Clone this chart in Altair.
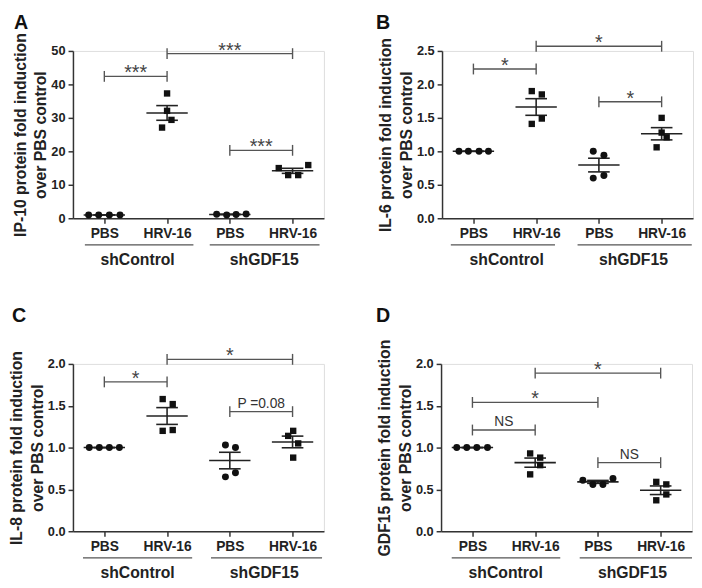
import altair as alt
import numpy as np
import pandas as pd

# ---------------- data ----------------
CATEGORIES = ["PBS", "HRV-16", "PBS", "HRV-16"]
GROUPS = ["shControl", "shGDF15"]
GROUP_CENTERS = [1.53, 3.55]
SHAPES = ["circle", "square", "circle", "square"]

A_VALUES = [[1.0, 1.0, 1.0, 1.0], [37.3, 32.1, 29.4, 27.1],
            [1.2, 1.0, 1.1, 1.3], [15.0, 12.9, 12.9, 15.9]]
A_OFFSETS = [[-0.25, -0.09, 0.08, 0.25], [0.0, 0.0, 0.07, -0.08],
             [-0.21, -0.05, 0.10, 0.26], [-0.22, -0.07, 0.09, 0.25]]
A_BRACKETS = [(1, 2, 42.4, "***"), (2, 4, 49.2, "***"), (3, 4, 20.3, "***")]
A_UNDERLINES = [(0.69, 2.42), (2.68, 4.43)]

B_VALUES = [[1.0, 1.0, 1.0, 1.0], [1.90, 1.85, 1.49, 1.41],
            [1.00, 0.94, 0.64, 0.60], [1.50, 1.28, 1.21, 1.06]]
B_OFFSETS = [[-0.23, -0.08, 0.09, 0.24], [-0.07, 0.09, 0.09, -0.07],
             [-0.09, 0.08, 0.08, -0.09], [0.0, 0.0, 0.08, -0.08]]
B_BRACKETS = [(1, 2, 2.23, "*"), (2, 4, 2.57, "*"), (3, 4, 1.74, "*")]
B_UNDERLINES = [(0.64, 2.30), (2.66, 4.48)]

C_VALUES = [[1.0, 1.0, 1.0, 1.0], [1.58, 1.52, 1.20, 1.21],
            [1.03, 1.00, 0.70, 0.65], [1.20, 1.14, 1.05, 0.88]]
C_OFFSETS = [[-0.24, -0.08, 0.08, 0.24], [-0.07, 0.09, -0.07, 0.09],
             [-0.07, 0.09, 0.09, -0.07], [0.01, -0.07, 0.09, 0.01]]
C_BRACKETS = [(1, 2, 1.785, "*"), (2, 4, 2.055, "*"), (3, 4, 1.43, "P =0.08")]
C_UNDERLINES = [(0.66, 2.40), (2.70, 4.47)]

D_VALUES = [[1.0, 1.0, 1.0, 1.0], [0.93, 0.88, 0.79, 0.68],
            [0.61, 0.56, 0.56, 0.63], [0.59, 0.56, 0.44, 0.37]]
D_OFFSETS = [[-0.25, -0.09, 0.07, 0.24], [-0.08, 0.08, 0.08, -0.08],
             [-0.24, -0.08, 0.08, 0.24], [-0.07, 0.09, 0.09, -0.07]]
D_BRACKETS = [(1, 2, 1.21, "NS"), (1, 3, 1.54, "*"), (2, 4, 1.89, "*"), (3, 4, 0.82, "NS")]
D_UNDERLINES = [(0.67, 2.40), (2.71, 4.50)]

Y_TITLES = {
    "A": ["IP-10 protein fold induction", "over PBS control"],
    "B": ["IL-6 protein fold induction", "over PBS control"],
    "C": ["IL-8 protein fold induction", "over PBS control"],
    "D": ["GDF15 protein fold induction", "over PBS control"],
}
Y_MAX = {"A": 50, "B": 2.5, "C": 2.0, "D": 2.0}
Y_TICKS = {"A": [0, 10, 20, 30, 40, 50],
           "B": [0, 0.5, 1.0, 1.5, 2.0, 2.5],
           "C": [0, 0.5, 1.0, 1.5, 2.0],
           "D": [0, 0.5, 1.0, 1.5, 2.0]}
Y_FORMAT = {"A": "d", "B": ".1f", "C": ".1f", "D": ".1f"}

# ---------------- styling ----------------
W, H = 255, 170
FONT = "Liberation Sans"
INK = "#111111"
LINE = "#222222"
GRAY = "#555555"


def panel(letter, values, offsets, brackets, underlines, letter_dx, letter_dy):
    pts = []
    summ_rows = []
    sem_rows = []
    vert_rows = []
    for i, (vals, offs) in enumerate(zip(values, offsets)):
        cat = i + 1
        for v, o in zip(vals, offs):
            pts.append({"x": cat + o, "y": v, "shape": SHAPES[i]})
        arr = np.array(vals)
        m = arr.mean()
        s = arr.std(ddof=1) / np.sqrt(len(arr))
        summ_rows.append({"x": cat, "y": m})
        sem_rows += [{"x": cat, "y": m - s}, {"x": cat, "y": m + s}]
        vert_rows.append({"x": cat, "y": m - s, "y2": m + s})
    pts = pd.DataFrame(pts)
    summ = pd.DataFrame(summ_rows)
    sem = pd.DataFrame(sem_rows)
    vert = pd.DataFrame(vert_rows)

    br = pd.DataFrame([{"x": a, "x2": b, "y": y, "label": t} for a, b, y, t in brackets])
    caps = pd.DataFrame([{"x": xx, "y": y} for a, b, y, t in brackets for xx in (a, b)])
    brtext = pd.DataFrame([{"x": (a + b) / 2, "y": y, "label": t} for a, b, y, t in brackets])
    ul = pd.DataFrame([{"x": a, "x2": b} for a, b in underlines])
    gl = pd.DataFrame([{"x": c, "label": g} for c, g in zip(GROUP_CENTERS, GROUPS)])
    lt = pd.DataFrame([{"label": letter}])

    label_expr = "[" + ",".join("'%s'" % c for c in CATEGORIES) + "][datum.value - 1]"
    xaxis = alt.Axis(values=[1, 2, 3, 4], labelExpr=label_expr, title=None, grid=False,
                     tickSize=5, tickWidth=1.5, domainWidth=1.5, domainColor="#333333",
                     tickColor="#333333", labelFontSize=14, labelFontWeight="bold",
                     labelColor="#222222", labelPadding=4, labelFont=FONT)
    yaxis = alt.Axis(values=Y_TICKS[letter], format=Y_FORMAT[letter], title=Y_TITLES[letter],
                     grid=False, tickSize=5, tickWidth=1.5, domainWidth=1.5,
                     domainColor="#333333", tickColor="#333333", labelFontSize=13,
                     labelFontWeight="bold", labelColor="#222222", labelPadding=3,
                     titleFontSize=16, titleFontWeight="bold", titleColor="#222222",
                     titlePadding=2, titleLineHeight=21, labelFont=FONT, titleFont=FONT)
    X = alt.X("x:Q", scale=alt.Scale(domain=[0.5, 4.5], nice=False, zero=False), axis=xaxis)
    Y = alt.Y("y:Q", scale=alt.Scale(domain=[0, Y_MAX[letter]], nice=False), axis=yaxis)

    points = alt.Chart(pts).mark_point(filled=True, opacity=1, color=INK).encode(
        x=X, y=Y,
        shape=alt.Shape("shape:N", scale=alt.Scale(domain=["circle", "square"],
                                                   range=["circle", "square"]), legend=None),
        size=alt.Size("shape:N", scale=alt.Scale(domain=["circle", "square"], range=[50, 42]),
                      legend=None),
    )
    mean_t = alt.Chart(summ).mark_tick(orient="horizontal", size=42, thickness=1.6,
                                       color=LINE, opacity=1).encode(x=X, y=Y)
    sem_t = alt.Chart(sem).mark_tick(orient="horizontal", size=22, thickness=1.6,
                                     color=LINE, opacity=1).encode(x=X, y=Y)
    vline = alt.Chart(vert).mark_rule(color=LINE, strokeWidth=1.6).encode(
        x=X, y=Y, y2=alt.Y2("y2:Q"))
    brl = alt.Chart(br).mark_rule(color=GRAY, strokeWidth=1.4).encode(
        x=X, x2=alt.X2("x2:Q"), y=Y)
    capl = alt.Chart(caps).mark_rule(color=GRAY, strokeWidth=1.4, yOffset=-5.5,
                                     y2Offset=5.5).encode(x=X, y=Y, y2=alt.Y2("y:Q"))
    stars = alt.Chart(brtext).transform_filter("indexof(datum.label, '*') >= 0").mark_text(
        fontSize=20, font=FONT, color="#444444", baseline="alphabetic", dy=3
    ).encode(x=X, y=Y, text="label:N")
    words = alt.Chart(brtext).transform_filter("indexof(datum.label, '*') < 0").mark_text(
        fontSize=14, font=FONT, color="#333333", baseline="alphabetic", dy=-4
    ).encode(x=X, y=Y, text="label:N")
    under = alt.Chart(ul).mark_rule(color=GRAY, strokeWidth=1.2).encode(
        x=X, x2=alt.X2("x2:Q"), y=alt.value(H + 27))
    gtext = alt.Chart(gl).mark_text(fontSize=16, fontWeight="bold", font=FONT,
                                    color="#222222", baseline="bottom").encode(
        x=X, y=alt.value(H + 50), text="label:N")
    ltext = alt.Chart(lt).mark_text(fontSize=20, fontWeight="bold", font=FONT,
                                    color="#111111", align="left", baseline="top").encode(
        x=alt.value(letter_dx), y=alt.value(letter_dy), text="label:N")

    return alt.layer(under, gtext, brl, capl, stars, words, vline, sem_t, mean_t,
                     points, ltext).properties(width=W, height=H)


pA = panel("A", A_VALUES, A_OFFSETS, A_BRACKETS, A_UNDERLINES, -60, -38)
pB = panel("B", B_VALUES, B_OFFSETS, B_BRACKETS, B_UNDERLINES, -67, -38)
pC = panel("C", C_VALUES, C_OFFSETS, C_BRACKETS, C_UNDERLINES, -62, -59)
pD = panel("D", D_VALUES, D_OFFSETS, D_BRACKETS, D_UNDERLINES, -66, -59)

chart = alt.vconcat(
    alt.hconcat(pA, pB, spacing=51),
    alt.hconcat(pC, pD, spacing=51),
    spacing=37,
).properties(padding=0).configure_view(stroke=None).configure(font=FONT)

chart.save("out.html", embed_options={"renderer": "svg", "actions": False})
